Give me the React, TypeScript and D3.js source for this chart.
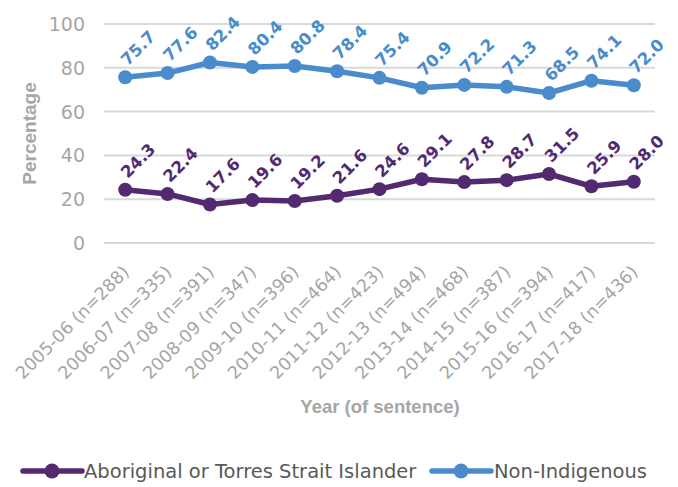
import React from "react";
import * as d3 from "d3";

const categories = [
  "2005-06 (n=288)", "2006-07 (n=335)", "2007-08 (n=391)", "2008-09 (n=347)",
  "2009-10 (n=396)", "2010-11 (n=464)", "2011-12 (n=423)", "2012-13 (n=494)",
  "2013-14 (n=468)", "2014-15 (n=387)", "2015-16 (n=394)", "2016-17 (n=417)",
  "2017-18 (n=436)",
];
const aboriginal = [24.3, 22.4, 17.6, 19.6, 19.2, 21.6, 24.6, 29.1, 27.8, 28.7, 31.5, 25.9, 28.0];
const nonIndigenous = [75.7, 77.6, 82.4, 80.4, 80.8, 78.4, 75.4, 70.9, 72.2, 71.3, 68.5, 74.1, 72.0];
const yTicks = [0, 20, 40, 60, 80, 100];

const series = [
  { name: "Aboriginal or Torres Strait Islander", values: aboriginal, color: "#532a70" },
  { name: "Non-Indigenous", values: nonIndigenous, color: "#4a8ccb" },
];

const W = 678, H = 487;
const left = 104, right = 655, top = 24, bottom = 243;
const wide = "'DejaVu Sans', sans-serif";
const bold = "'Liberation Sans', Arial, sans-serif";

export default function App() {
  const x = d3.scaleBand<string>().domain(categories).range([left, right]);
  const y = d3.scaleLinear().domain([0, 100]).range([bottom, top]);
  const cx = (c: string) => (x(c) ?? 0) + x.bandwidth() / 2;
  const line = d3.line<number>().x((_, i) => cx(categories[i])).y((v) => y(v));
  const legY = 471;

  return (
    <svg width={W} height={H} style={{ position: "absolute", left: 0, top: 0, background: "#fff" }}>
      {yTicks.map((t) => (
        <g key={t}>
          <line x1={left} x2={right} y1={y(t)} y2={y(t)} stroke="#d9d9d9" strokeWidth={2} />
          <text x={85} y={y(t)} textAnchor="end" dominantBaseline="central" fontFamily={wide} fontSize={19} fill="#a6a6a6">{t}</text>
        </g>
      ))}
      <text transform={`translate(29,${(top + bottom) / 2}) rotate(-90)`} textAnchor="middle" dominantBaseline="central" fontFamily={bold} fontWeight="bold" fontSize={19} fill="#a6a6a6">Percentage</text>
      {categories.map((c) => (
        <text key={c} transform={`translate(${cx(c) + 5},${bottom + 30}) rotate(-45)`} textAnchor="end" fontFamily={wide} fontSize={17.5} fill="#a6a6a6">{c}</text>
      ))}
      <text x={380} y={413} textAnchor="middle" fontFamily={bold} fontWeight="bold" fontSize={18.5} fill="#a6a6a6">Year (of sentence)</text>
      {series.map((s) => (
        <g key={s.name}>
          <path d={line(s.values) ?? ""} fill="none" stroke={s.color} strokeWidth={5.5} strokeLinejoin="round" />
          {s.values.map((v, i) => (
            <circle key={i} cx={cx(categories[i])} cy={y(v)} r={7} fill={s.color} />
          ))}
          {s.values.map((v, i) => (
            <text key={"l" + i} transform={`translate(${cx(categories[i]) + 13},${y(v) - 29}) rotate(-45)`} textAnchor="middle" dominantBaseline="central" fontFamily={wide} fontWeight="bold" fontSize={16.5} fill={s.color}>{v.toFixed(1)}</text>
          ))}
        </g>
      ))}
      <g>
        <line x1={23} x2={82} y1={legY} y2={legY} stroke={series[0].color} strokeWidth={5.5} strokeLinecap="round" />
        <circle cx={52} cy={legY} r={7.5} fill={series[0].color} />
        <text x={84} y={legY} dominantBaseline="central" fontFamily={wide} fontSize={19.5} fill="#595959">{series[0].name}</text>
        <line x1={432} x2={491} y1={legY} y2={legY} stroke={series[1].color} strokeWidth={5.5} strokeLinecap="round" />
        <circle cx={461} cy={legY} r={7.5} fill={series[1].color} />
        <text x={494} y={legY} dominantBaseline="central" fontFamily={wide} fontSize={19.5} fill="#595959">{series[1].name}</text>
      </g>
    </svg>
  );
}
